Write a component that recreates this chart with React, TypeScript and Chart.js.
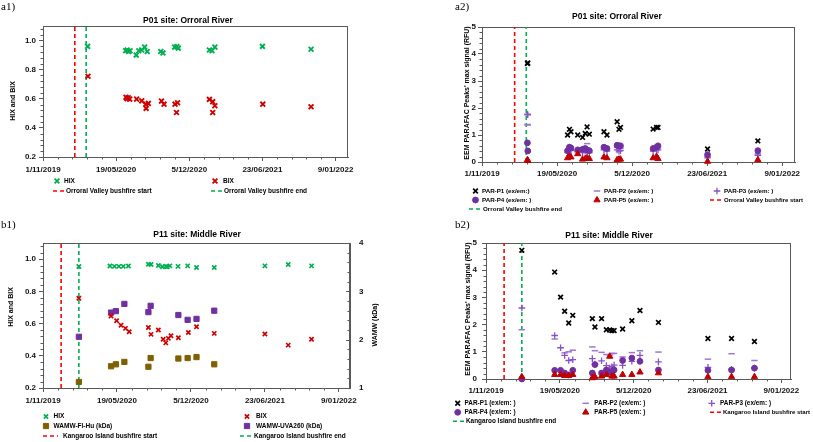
import React, { useEffect, useRef } from 'react';
import { Chart, registerables } from 'chart.js';
import { drawPoint } from 'chart.js/helpers';
Chart.register(...registerables);

// ---------- shared axis data ----------
const xTickDays = [0, 200, 400, 600, 800]; // days since 1/11/2019
const xTickLabels = ['1/11/2019', '19/05/2020', '5/12/2020', '23/06/2021', '9/01/2022'];
const hixBixTicks = [0.2, 0.4, 0.6, 0.8, 1.0];
const parafacTicks = [0, 1, 2, 3, 4, 5];
const wamwTicks = [1, 2, 3, 4];

// fire events (days since 1/11/2019): [start, end]
const orroralFireDays = [87, 118];
const kangarooFireDays = [49, 97];

// ---------- a1: P01 HIX / BIX ----------
const a1HixDays = [122, 226, 230, 234, 238, 255, 262, 270, 278, 285, 322, 328, 360, 366, 370, 455, 462, 470, 600, 733];
const a1HixValues = [0.96, 0.93, 0.935, 0.925, 0.93, 0.9, 0.93, 0.935, 0.955, 0.925, 0.925, 0.915, 0.955, 0.958, 0.948, 0.935, 0.93, 0.955, 0.96, 0.94];
const a1BixDays = [123, 227, 230, 233, 237, 256, 270, 281, 282, 288, 324, 331, 361, 365, 368, 455, 464, 464, 470, 601, 733];
const a1BixValues = [0.755, 0.61, 0.6, 0.607, 0.598, 0.598, 0.586, 0.563, 0.534, 0.568, 0.584, 0.563, 0.563, 0.506, 0.573, 0.596, 0.58, 0.506, 0.552, 0.563, 0.545];

// ---------- a2: P01 PARAFAC ----------
const a2Days = [121, 122, 228, 233, 237, 255, 268, 275, 280, 286, 325, 333, 360, 365, 369, 456, 465, 469, 601, 735];
const a2P1 = [3.65, 3.67, 1.0, 1.21, 1.12, 1.0, 0.91, 1.06, 1.3, 1.03, 1.12, 1.0, 1.49, 1.21, 1.28, 1.22, 1.28, 1.28, 0.48, 0.78];
const a2P2 = [1.39, 1.37, 0.42, 0.5, 0.48, 0.42, 0.45, 0.45, 0.68, 0.42, 0.5, 0.45, 0.55, 0.5, 0.5, 0.45, 0.5, 0.52, 0.2, 0.3];
const a2P3 = [1.77, 1.75, 0.35, 0.45, 0.42, 0.38, 0.35, 0.4, 0.4, 0.35, 0.45, 0.4, 0.45, 0.4, 0.42, 0.4, 0.45, 0.45, 0.15, 0.25];
const a2P4 = [0.71, 0.41, 0.42, 0.55, 0.52, 0.45, 0.47, 0.5, 0.45, 0.42, 0.55, 0.5, 0.62, 0.6, 0.6, 0.5, 0.55, 0.6, 0.27, 0.42];
const a2P5 = [0.08, 0.05, 0.15, 0.2, 0.18, 0.3, 0.1, 0.12, 0.15, 0.12, 0.18, 0.15, 0.08, 0.1, 0.1, 0.15, 0.2, 0.12, 0.02, 0.08];

// ---------- b1: P11 HIX / BIX / WAMW ----------
const b1HixDays = [97, 181, 193, 205, 217, 231, 285, 292, 312, 323, 332, 336, 343, 365, 391, 415, 463, 600, 663, 726];
const b1HixValues = [0.954, 0.957, 0.955, 0.955, 0.955, 0.957, 0.968, 0.967, 0.96, 0.952, 0.955, 0.953, 0.958, 0.955, 0.958, 0.948, 0.948, 0.958, 0.966, 0.958];
const b1BixDays = [97, 184, 199, 211, 223, 233, 285, 292, 312, 325, 332, 339, 346, 366, 393, 415, 463, 600, 663, 726];
const b1BixValues = [0.757, 0.647, 0.617, 0.59, 0.57, 0.549, 0.576, 0.533, 0.56, 0.502, 0.48, 0.508, 0.524, 0.512, 0.545, 0.58, 0.539, 0.535, 0.466, 0.503];
const b1WamwDays = [97, 184, 197, 220, 285, 291, 366, 391, 415, 463];
const b1WamwFlHu = [1.125, 1.45, 1.49, 1.54, 1.44, 1.62, 1.61, 1.62, 1.64, 1.49];
const b1WamwUva260 = [2.06, 2.56, 2.59, 2.74, 2.57, 2.7, 2.51, 2.41, 2.43, 2.6];

// ---------- b2: P11 PARAFAC ----------
const b2Days = [97, 186, 202, 213, 224, 235, 288, 295, 313, 326, 335, 341, 347, 370, 395, 417, 467, 601, 665, 727];
const b2P1 = [4.73, 3.93, 3.01, 2.49, 2.06, 2.34, 2.22, 1.91, 2.22, 1.81, 1.8, 1.78, 1.78, 1.84, 2.14, 2.52, 2.08, 1.49, 1.49, 1.38];
const b2P2 = [1.81, 1.47, 1.15, 0.96, 1.0, 1.06, 1.18, 1.04, 0.98, 0.9, 0.88, 0.94, 0.94, 0.81, 0.97, 1.04, 0.99, 0.73, 0.93, 0.68];
const b2P3 = [2.61, 1.6, 1.15, 0.87, 0.68, 0.71, 0.75, 0.55, 0.67, 0.49, 0.4, 0.45, 0.51, 0.5, 0.65, 0.87, 0.63, 0.43, 0.36, 0.4];
const b2P4 = [0.0, 0.32, 0.32, 0.22, 0.15, 0.32, 0.22, 0.53, 0.22, 0.33, 0.25, 0.27, 0.33, 0.68, 0.77, 0.65, 0.33, 0.32, 0.33, 0.4];
const b2P5 = [0.08, 0.16, 0.16, 0.12, 0.12, 0.16, 0.04, 0.08, 0.1, 0.16, 0.83, 0.1, 0.1, 0.16, 0.16, 0.25, 0.22, 0.08, 0.08, 0.08];

// ---------- styles ----------
const FONT = '"Liberation Sans", Arial, sans-serif';
const AXIS = '#595959';
const GREEN = '#00b050';
const RED = '#d00000';
const FIRE_RED = '#ff0000';

type Mk = { style: any; r: number; bw: number; color: string; fill?: string };
const MK: Record<string, Mk> = {
  hix: { style: 'crossRot', r: 3.4, bw: 1.9, color: GREEN },
  bix: { style: 'crossRot', r: 3.4, bw: 1.9, color: RED },
  hixS: { style: 'crossRot', r: 3.0, bw: 1.7, color: GREEN },
  bixS: { style: 'crossRot', r: 3.0, bw: 1.7, color: RED },
  p1: { style: 'crossRot', r: 3.3, bw: 1.7, color: '#000000' },
  p2: { style: 'line', r: 3.2, bw: 1.5, color: '#9e76d4' },
  p3: { style: 'cross', r: 3.3, bw: 1.3, color: '#8a50c8' },
  p4: { style: 'circle', r: 2.9, bw: 1, color: '#7030a0' },
  p5: { style: 'triangle', r: 3.6, bw: 1, color: '#c00000' },
  flhu: { style: 'rect', r: 3.7, bw: 1, color: '#7f6000' },
  uva: { style: 'rect', r: 3.7, bw: 1, color: '#7030a0' },
};

function pts(days: number[], vals: number[]) {
  return days.map((d, i) => ({ x: d, y: vals[i] }));
}
function markers(label: string, days: number[], vals: number[], m: Mk, yAxisID = 'y') {
  return {
    label, data: pts(days, vals), yAxisID, showLine: false, clip: false,
    pointStyle: m.style, pointRadius: m.r, pointBorderWidth: m.bw,
    pointBorderColor: m.color, pointBackgroundColor: m.fill ?? m.color,
    borderColor: m.color, backgroundColor: m.fill ?? m.color,
  };
}
function fireLine(label: string, day: number, color: string, yMin: number, yMax: number) {
  return {
    label, data: [{ x: day, y: yMin }, { x: day, y: yMax }], yAxisID: 'y',
    showLine: true, pointRadius: 0, borderColor: color, borderWidth: 1.6,
    borderDash: [4, 3], fill: false,
  };
}

type LegendItem = { text: string; x: number; tx: number; y: number; mk?: Mk; dash?: string; len?: number; size?: number };
type AxisSpec = { min: number; max: number; ticks: number[]; minor: number; dec: number; pad: number };
type PanelSpec = {
  id: string; left: number; top: number; width: number; height: number;
  plot: { l: number; t: number; r: number; b: number };
  xMax: number; xPad: number;
  y: AxisSpec; y2?: AxisSpec;
  title: { text: string; x: number; y: number };
  label: { text: string; x: number; y: number };
  yTitle: { text: string; x: number; y: number };
  y2Title?: { text: string; x: number; y: number };
  legendSize: number;
  legend: LegendItem[];
  datasets: any[];
};

const panels: PanelSpec[] = [
  {
    id: 'a1', left: 0, top: 0, width: 410, height: 220,
    plot: { l: 43, t: 26, r: 348, b: 157 }, xMax: 834, xPad: 4,
    y: { min: 0.2, max: 1.1, ticks: hixBixTicks, minor: 0.04, dec: 1, pad: 3 },
    title: { text: 'P01 site: Orroral River', x: 188, y: 21 },
    label: { text: 'a1)', x: 1, y: 7 },
    yTitle: { text: 'HIX and BIX', x: 13, y: 101 },
    legendSize: 6.5,
    legend: [
      { text: 'HIX', x: 57, tx: 64, y: 181, mk: MK.hix },
      { text: 'BIX', x: 215, tx: 223, y: 181, mk: MK.bix },
      { text: 'Orroral Valley bushfire start', x: 53, tx: 66, y: 191, dash: FIRE_RED, len: 11 },
      { text: 'Orroral Valley bushfire end', x: 211, tx: 224, y: 191, dash: GREEN, len: 11 },
    ],
    datasets: [
      markers('HIX', a1HixDays, a1HixValues, MK.hix),
      markers('BIX', a1BixDays, a1BixValues, MK.bix),
      fireLine('Orroral Valley bushfire start', orroralFireDays[0], FIRE_RED, 0.2, 1.1),
      fireLine('Orroral Valley bushfire end', orroralFireDays[1], GREEN, 0.2, 1.1),
    ],
  },
  {
    id: 'a2', left: 410, top: 0, width: 403, height: 220,
    plot: { l: 72, t: 27, r: 385, b: 162 }, xMax: 834, xPad: 3,
    y: { min: 0, max: 5, ticks: parafacTicks, minor: 0.2, dec: 0, pad: 2 },
    title: { text: 'P01 site: Orroral River', x: 207, y: 17 },
    label: { text: 'a2)', x: 45, y: 7 },
    yTitle: { text: "EEM PARAFAC Peaks' max signal (RFU)", x: 57.5, y: 93 },
    legendSize: 6.2,
    legend: [
      { text: 'PAR-P1 (ex/em:)', x: 65.5, tx: 72, y: 191, mk: MK.p1 },
      { text: 'PAR-P2 (ex/em: )', x: 187, tx: 194, y: 191, mk: MK.p2 },
      { text: 'PAR-P3 (ex/em: )', x: 307, tx: 314, y: 191, mk: MK.p3 },
      { text: 'PAR-P4 (ex/em: )', x: 65.5, tx: 72, y: 200, mk: MK.p4 },
      { text: 'PAR-P5 (ex/em: )', x: 187, tx: 194, y: 200, mk: MK.p5 },
      { text: 'Orroral Valley bushfire start', x: 300, tx: 314, y: 200, dash: FIRE_RED, len: 11, size: 6.0 },
      { text: 'Orroral Valley bushfire end', x: 59, tx: 73, y: 209, dash: GREEN, len: 11 },
    ],
    datasets: [
      markers('PAR-P5 (ex/em: )', a2Days, a2P5, MK.p5),
      markers('PAR-P4 (ex/em: )', a2Days, a2P4, MK.p4),
      markers('PAR-P1 (ex/em:)', a2Days, a2P1, MK.p1),
      markers('PAR-P3 (ex/em: )', a2Days, a2P3, MK.p3),
      markers('PAR-P2 (ex/em: )', a2Days, a2P2, MK.p2),
      fireLine('Orroral Valley bushfire start', orroralFireDays[0], FIRE_RED, 0, 5),
      fireLine('Orroral Valley bushfire end', orroralFireDays[1], GREEN, 0, 5),
    ],
  },
  {
    id: 'b1', left: 0, top: 220, width: 410, height: 222,
    plot: { l: 43, t: 23, r: 350, b: 168 }, xMax: 830, xPad: 3.5,
    y: { min: 0.2, max: 1.1, ticks: hixBixTicks, minor: 0.04, dec: 1, pad: 3 },
    y2: { min: 1, max: 4, ticks: wamwTicks, minor: 0.2, dec: 0, pad: 1 },
    title: { text: 'P11 site: Middle River', x: 197, y: 15 },
    label: { text: 'b1)', x: 1, y: 5 },
    yTitle: { text: 'HIX and BIX', x: 11, y: 87 },
    y2Title: { text: 'WAMW (kDa)', x: 375, y: 105 },
    legendSize: 6.5,
    legend: [
      { text: 'HIX', x: 46, tx: 53.5, y: 196.5, mk: MK.hixS },
      { text: 'BIX', x: 247, tx: 256, y: 196.5, mk: MK.bixS },
      { text: 'WAMW-Fl-Hu (kDa)', x: 46, tx: 53.5, y: 206, mk: MK.flhu },
      { text: 'WAMW-UVA260 (kDa)', x: 247, tx: 256, y: 206, mk: MK.uva },
      { text: 'Kangaroo Island bushfire start', x: 43, tx: 63, y: 216, dash: FIRE_RED, len: 15 },
      { text: 'Kangaroo Island bushfire end', x: 240, tx: 254, y: 216, dash: GREEN, len: 11 },
    ],
    datasets: [
      markers('HIX', b1HixDays, b1HixValues, MK.hixS),
      markers('BIX', b1BixDays, b1BixValues, MK.bixS),
      markers('WAMW-UVA260 (kDa)', b1WamwDays, b1WamwUva260, MK.uva, 'y2'),
      markers('WAMW-Fl-Hu (kDa)', b1WamwDays, b1WamwFlHu, MK.flhu, 'y2'),
      fireLine('Kangaroo Island bushfire start', kangarooFireDays[0], FIRE_RED, 0.2, 1.1),
      fireLine('Kangaroo Island bushfire end', kangarooFireDays[1], GREEN, 0.2, 1.1),
    ],
  },
  {
    id: 'b2', left: 410, top: 220, width: 403, height: 222,
    plot: { l: 76, t: 23, r: 381, b: 159 }, xMax: 826, xPad: 2.5,
    y: { min: 0, max: 5, ticks: parafacTicks, minor: 0.2, dec: 0, pad: 5 },
    title: { text: 'P11 site: Middle River', x: 199, y: 16 },
    label: { text: 'b2)', x: 45, y: 5 },
    yTitle: { text: "EEM PARAFAC Peaks' max signal (RFU)", x: 58, y: 89 },
    legendSize: 6.4,
    legend: [
      { text: 'PAR-P1 (ex/em: )', x: 47.7, tx: 54.5, y: 183.3, mk: MK.p1 },
      { text: 'PAR-P2 (ex/em: )', x: 175.7, tx: 184.3, y: 183.3, mk: MK.p2 },
      { text: 'PAR-P3 (ex/em: )', x: 301.7, tx: 310, y: 183.3, mk: MK.p3 },
      { text: 'PAR-P4 (ex/em: )', x: 47.7, tx: 54.5, y: 192.3, mk: MK.p4 },
      { text: 'PAR-P5 (ex/em: )', x: 175.7, tx: 184.3, y: 192.3, mk: MK.p5 },
      { text: 'Kangaroo Island bushfire start', x: 300, tx: 313, y: 192.3, dash: FIRE_RED, len: 11, size: 6.0 },
      { text: 'Kangaroo Island bushfire end', x: 43, tx: 56, y: 201.3, dash: GREEN, len: 11 },
    ],
    datasets: [
      markers('PAR-P5 (ex/em: )', b2Days, b2P5, MK.p5),
      markers('PAR-P4 (ex/em: )', b2Days, b2P4, MK.p4),
      markers('PAR-P1 (ex/em: )', b2Days, b2P1, MK.p1),
      markers('PAR-P3 (ex/em: )', b2Days, b2P3, MK.p3),
      markers('PAR-P2 (ex/em: )', b2Days, b2P2, MK.p2),
      fireLine('Kangaroo Island bushfire start', kangarooFireDays[0], FIRE_RED, 0, 5),
      fireLine('Kangaroo Island bushfire end', kangarooFireDays[1], GREEN, 0, 5),
    ],
  },
];

function line(ctx: CanvasRenderingContext2D, x1: number, y1: number, x2: number, y2: number) {
  ctx.beginPath();
  ctx.moveTo(x1, y1);
  ctx.lineTo(x2, y2);
  ctx.stroke();
}

function panelPlugin(p: PanelSpec) {
  return {
    id: 'panelDecor_' + p.id,
    beforeDatasetsDraw(chart: any) {
      const ctx: CanvasRenderingContext2D = chart.ctx;
      const { left, right, top, bottom } = chart.chartArea;
      ctx.save();
      ctx.strokeStyle = AXIS;
      ctx.lineWidth = 1;
      // frame (top and right)
      line(ctx, left, Math.round(top) + 0.5, right, Math.round(top) + 0.5);
      line(ctx, Math.round(right) - 0.5, top, Math.round(right) - 0.5, bottom);
      // minor ticks on x
      const xs = chart.scales.x;
      for (let d = 40; d <= p.xMax; d += 40) {
        if (d % 200 === 0) continue;
        const px = Math.round(xs.getPixelForValue(d)) + 0.5;
        line(ctx, px, bottom, px, bottom + 2.5);
      }
      // minor ticks on y
      const ys = chart.scales.y;
      const n = Math.round((p.y.max - p.y.min) / p.y.minor);
      for (let i = 1; i < n; i++) {
        const v = p.y.min + i * p.y.minor;
        if (p.y.ticks.some((t) => Math.abs(t - v) < 1e-6)) continue;
        const py = Math.round(ys.getPixelForValue(v)) + 0.5;
        line(ctx, left - 2.5, py, left, py);
      }
      if (p.y2) {
        const y2s = chart.scales.y2;
        const n2 = Math.round((p.y2.max - p.y2.min) / p.y2.minor);
        for (let i = 1; i < n2; i++) {
          const v = p.y2.min + i * p.y2.minor;
          const major = p.y2.ticks.some((t) => Math.abs(t - v) < 1e-6);
          const py = Math.round(y2s.getPixelForValue(v)) + 0.5;
          line(ctx, right - (major ? 4 : 2.5), py, right, py);
        }
      }
      ctx.restore();
    },
    afterDraw(chart: any) {
      const ctx: CanvasRenderingContext2D = chart.ctx;
      ctx.save();
      // panel label
      ctx.fillStyle = '#000';
      ctx.font = '11px "Liberation Serif", "DejaVu Serif", serif';
      ctx.textAlign = 'left';
      ctx.textBaseline = 'middle';
      ctx.fillText(p.label.text, p.label.x, p.label.y);
      // title
      ctx.font = `bold 8.5px ${FONT}`;
      ctx.textAlign = 'center';
      ctx.fillText(p.title.text, p.title.x, p.title.y);
      // axis titles
      ctx.font = `bold 7px ${FONT}`;
      const titles = [p.yTitle, p.y2Title].filter(Boolean) as { text: string; x: number; y: number }[];
      for (const t of titles) {
        ctx.save();
        ctx.translate(t.x, t.y);
        ctx.rotate(-Math.PI / 2);
        ctx.textAlign = 'center';
        ctx.textBaseline = 'middle';
        ctx.fillText(t.text, 0, 0);
        ctx.restore();
      }
      // legend
      for (const it of p.legend) {
        ctx.save();
        if (it.dash) {
          ctx.strokeStyle = it.dash;
          ctx.lineWidth = 1.6;
          ctx.setLineDash([4, 3]);
          line(ctx, it.x, it.y, it.x + (it.len ?? 11), it.y);
        } else if (it.mk) {
          ctx.strokeStyle = it.mk.color;
          ctx.fillStyle = it.mk.fill ?? it.mk.color;
          ctx.lineWidth = it.mk.bw;
          drawPoint(ctx, { pointStyle: it.mk.style, radius: it.mk.r, borderWidth: it.mk.bw, rotation: 0 } as any, it.x, it.y);
        }
        ctx.restore();
        ctx.fillStyle = '#000';
        ctx.font = `bold ${it.size ?? p.legendSize}px ${FONT}`;
        ctx.textAlign = 'left';
        ctx.textBaseline = 'middle';
        ctx.fillText(it.text, it.tx, it.y);
      }
      ctx.restore();
    },
  };
}

function buildConfig(p: PanelSpec): any {
  const W = p.width;
  const H = p.height;
  const { l, t, r, b } = p.plot;
  const tickFont = { family: FONT, size: 8, weight: 'bold' as const };
  const gridOpts = { display: true, drawOnChartArea: false, drawTicks: true, tickLength: 4, color: AXIS, lineWidth: 1 };
  const borderOpts = { display: true, color: AXIS, width: 1 };
  const scales: any = {
    x: {
      type: 'linear', position: 'bottom', min: 0, max: p.xMax,
      afterBuildTicks: (s: any) => { s.ticks = xTickDays.map((value) => ({ value })); },
      afterFit: (s: any) => { s.height = H - b; },
      ticks: {
        autoSkip: false, maxRotation: 0, minRotation: 0, padding: p.xPad, color: '#111', font: tickFont,
        callback: (v: any) => { const i = xTickDays.indexOf(Number(v)); return i >= 0 ? xTickLabels[i] : ''; },
      },
      grid: gridOpts, border: borderOpts,
    },
    y: {
      type: 'linear', position: 'left', min: p.y.min, max: p.y.max,
      afterBuildTicks: (s: any) => { s.ticks = p.y.ticks.map((value) => ({ value })); },
      afterFit: (s: any) => { s.width = l; },
      ticks: { padding: p.y.pad, color: '#111', font: tickFont, callback: (v: any) => Number(v).toFixed(p.y.dec) },
      grid: gridOpts, border: borderOpts,
    },
  };
  if (p.y2) {
    const y2 = p.y2;
    scales.y2 = {
      type: 'linear', position: 'right', min: y2.min, max: y2.max,
      afterBuildTicks: (s: any) => { s.ticks = y2.ticks.map((value) => ({ value })); },
      afterFit: (s: any) => { s.width = W - r; },
      ticks: { padding: y2.pad, color: '#111', font: tickFont, callback: (v: any) => Number(v).toFixed(y2.dec) },
      grid: { display: false }, border: borderOpts,
    };
  }
  return {
    type: 'scatter',
    data: { datasets: p.datasets },
    options: {
      responsive: false,
      maintainAspectRatio: false,
      animation: false,
      devicePixelRatio: 1,
      events: [],
      layout: { padding: { left: 0, top: t, right: p.y2 ? 0 : W - r, bottom: 0 } },
      plugins: { legend: { display: false }, tooltip: { enabled: false }, title: { display: false } },
      scales,
    },
    plugins: [panelPlugin(p)],
  };
}

function Panel({ spec }: { spec: PanelSpec }) {
  const ref = useRef<HTMLCanvasElement>(null);
  useEffect(() => {
    if (!ref.current) return;
    const chart = new Chart(ref.current, buildConfig(spec));
    return () => chart.destroy();
  }, [spec]);
  return (
    <canvas
      ref={ref}
      width={spec.width}
      height={spec.height}
      style={{ position: 'absolute', left: spec.left, top: spec.top, width: spec.width, height: spec.height }}
    />
  );
}

export default function App() {
  return (
    <div style={{ position: 'absolute', left: 0, top: 0, width: 813, height: 442, background: '#ffffff', overflow: 'hidden' }}>
      {panels.map((p) => (
        <Panel key={p.id} spec={p} />
      ))}
    </div>
  );
}
